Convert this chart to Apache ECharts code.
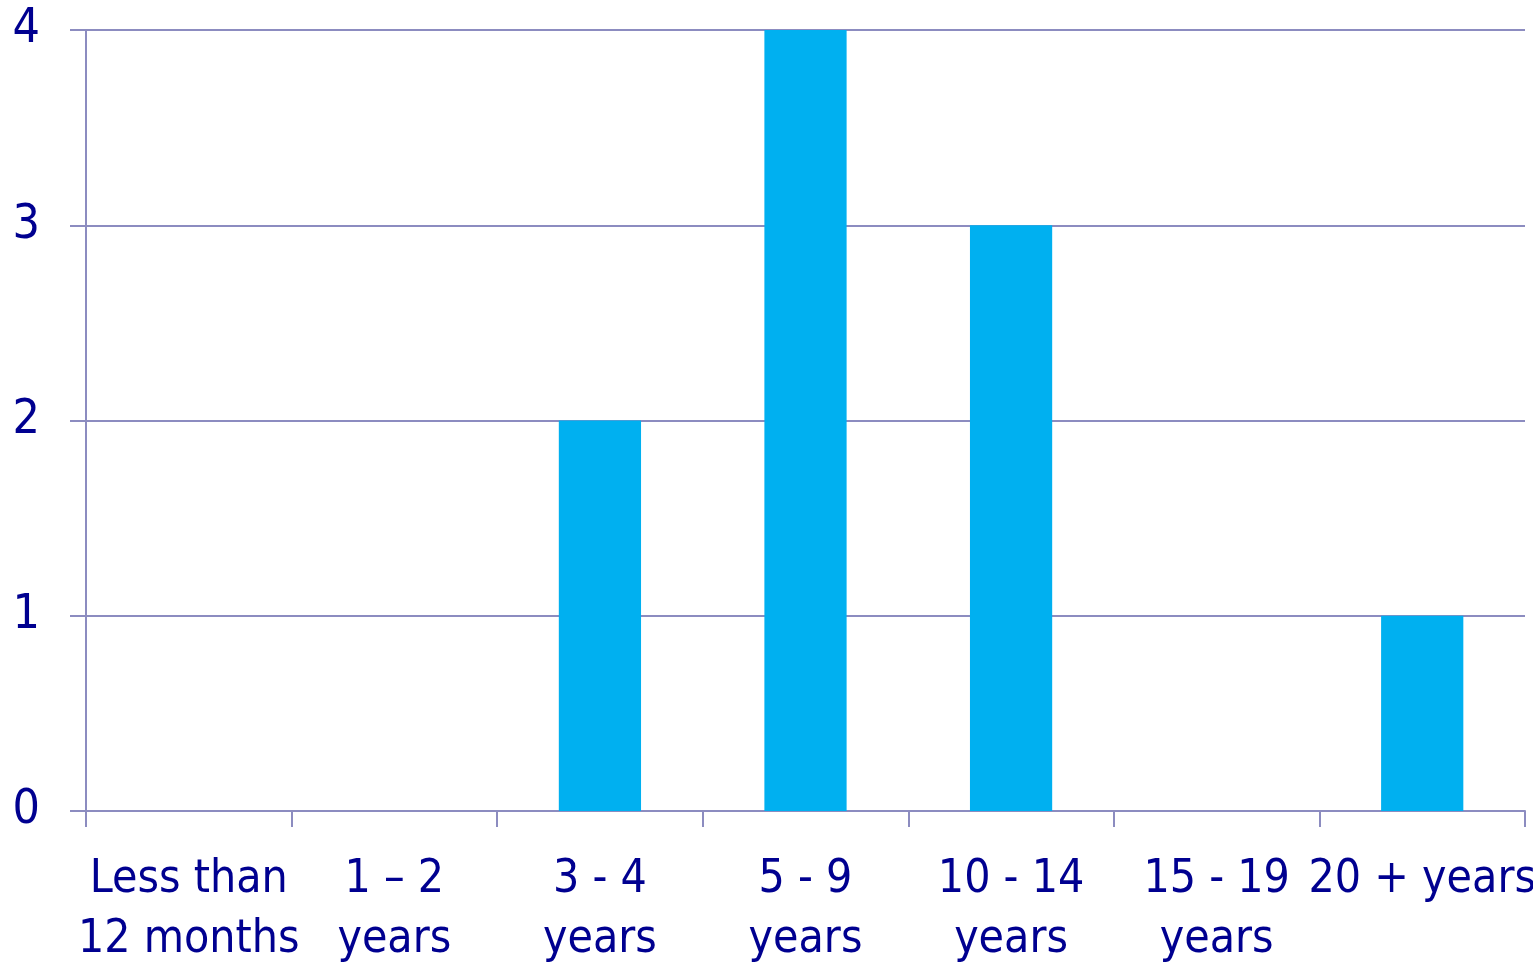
<!DOCTYPE html>
<html>
<head>
<meta charset="utf-8">
<script src="https://cdn.jsdelivr.net/npm/echarts@6/dist/echarts.min.js"></script>
<style>
  html, body { margin: 0; padding: 0; background: #ffffff; }
  #chart { width: 1533px; height: 967px; }
</style>
</head>
<body>
<div id="chart"></div>
<script>
// Length-of-service bands and how many people fall in each
const categories = [
  'Less than\n12 months',
  '1 \u2013 2\nyears',
  '3 - 4\nyears',
  '5 - 9\nyears',
  '10 - 14\nyears',
  '15 - 19\nyears',
  '20 + years'
];
const counts = [0, 0, 2, 4, 3, 0, 1];
const yTicks = [0, 1, 2, 3, 4];

const FONT = '"Liberation Sans Narrow", "Arial Narrow", "DejaVu Sans Condensed", sans-serif';
const TEXT = '#000090';
const RULE = '#8c8cc0';

const chart = echarts.init(document.getElementById('chart'), null, { renderer: 'canvas' });
chart.setOption({
  animation: false,
  backgroundColor: '#ffffff',
  grid: { left: 86, right: 8, top: 30, bottom: 156, containLabel: false, outerBoundsMode: 'none' },
  xAxis: {
    type: 'category',
    data: categories,
    axisLine: { show: true, lineStyle: { color: RULE, width: 2 } },
    axisTick: { show: true, length: 16, alignWithLabel: false, lineStyle: { color: RULE, width: 2 } },
    axisLabel: {
      interval: 0,
      margin: 39,
      color: TEXT,
      fontFamily: FONT,
      fontSize: 46,
      lineHeight: 60,
      verticalAlign: 'top',
      hideOverlap: false
    },
    splitLine: { show: false }
  },
  yAxis: {
    type: 'value',
    min: yTicks[0],
    max: yTicks[yTicks.length - 1],
    interval: 1,
    axisLine: { show: true, lineStyle: { color: RULE, width: 2 } },
    axisTick: { show: true, length: 16, lineStyle: { color: RULE, width: 2 } },
    axisLabel: {
      margin: 46,
      color: TEXT,
      fontFamily: FONT,
      fontSize: 48
    },
    splitLine: { show: true, lineStyle: { color: RULE, width: 2 } }
  },
  series: [{
    type: 'bar',
    data: counts,
    barWidth: '40%',
    itemStyle: { color: '#00b0f0' }
  }]
});
</script>
</body>
</html>
